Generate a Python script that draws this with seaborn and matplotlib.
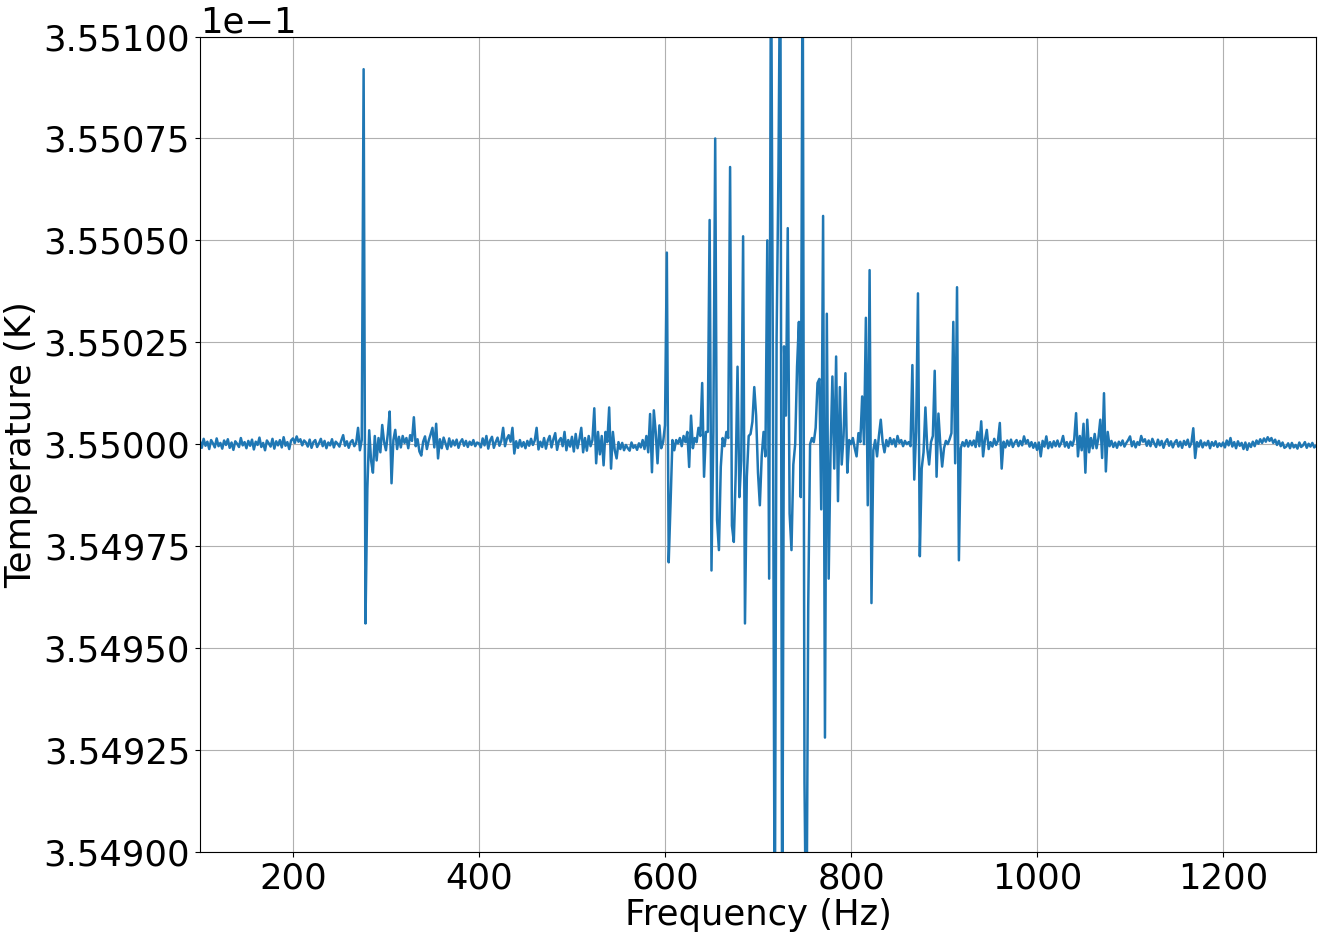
import numpy as np
import matplotlib
matplotlib.use("Agg")
import matplotlib.pyplot as plt
import matplotlib.ticker as mticker
import seaborn as sns

# frequency grid (Hz), one sample every 2 Hz
freq = np.arange(100, 1301, 2)

# deviation from 0.355 K, in micro-kelvin
dev_low = [
    0.8, -0.9, 1.3, -0.4, 0.6, -1.2, 1.0, 0.2, -0.8, 1.4, -0.5, 0.3, -1.1, 0.9, -0.2, 1.2, -0.9, 0.4, -1.4, 0.7, 0.1, -0.7, 1.5, -0.3, 0.5,
    -1.0, 0.8, -0.4, 1.1, -1.3, 0.6, -0.2, 1.6, -0.7, 0.3, -1.5, 0.9, 0.2, -0.6, 1.3, -1.1, 0.7, -0.3, 1.0, -0.8, 1.7, -0.4, 0.5, -1.2, 0.9,
    1.4, 0.3, 1.9, 0.6, 1.2, -0.3, 0.9, 0.4, -0.6, 1.1, -0.9, 0.5, 1.0, -0.7, 0.2, 1.3, -0.5, 0.8, -1.0, 0.4, -0.3, 1.2, -0.8, 0.6, 0.1,
    -0.6, 0.9, 2.2, -0.4, 0.7, -0.9, 0.5, 1.0, -0.5, 0.3, 4.0, -1.5, 1.0, 92, -44, -11, 3.4, -4, -7, 2, -4, 1.5, -2, 4.7, 0.5,
    -1.5, 2.5, 8, -9.6, 1.0, 3.5, -1.2, 1.8, -0.8, 2.0, 0.3, 1.5, -1.0, 2.2, 0.8, 6.6, -0.5, 1.2, -1.8, -2.8, 0.6, 1.9, -1.2, 0.9, 2.4,
    4, -0.8, 5, -3.5, 1.2, -1.0, 1.6, 0.2, -1.2, 1.4, -0.6, 0.9, -0.3, 1.1, -0.9, 0.5, 1.2, -0.4, 0.8, -0.7, 0.6, -0.2, 1.0, -0.5, 0.4,
    0.2, -0.8, 1.4, -0.3, 2.0, -1.1, 0.9, 1.8, -0.9, 0.5, 1.6, -0.4, 0.8, 4.0, -0.5, 1.3, 2.2, 0.6, 4.0, -2.3, 0.7, -0.9, 1.0, -0.6, 0.5,
    -1.0, 0.8, -0.4, 1.3, -0.2, 0.9, 4.0, -1.3, 0.6, -0.7, 1.5, -1.1, 0.9, 2.0, -0.8, 1.2, 2.7, -1.4, 0.8, 1.5, -0.5, 3.0, -1.5, 1.0, -0.6,
    1.8, -1.8, 2.5, -1.0, 1.2, 4.0, -2.0, 1.5, -1.6, 2.0, -0.5, 1.0, 8.8, -4.7, 3.0, -2.5, 2.0, -5.2, 3.0, 0.5, 9.0, -6.0, 3.0, -1.5, -3.5,
    0.5, -1.2, 0.3, -1.5, -0.2, -1.0, -1.6, 0.4, -0.9, -0.3, -1.4, 0.2, -0.8, 1.0, -1.2, 2.0, -2.0, 7.4, -6.9, 8.3, 3.0, -4.7, 4.6, -1.0, 0.5,
]

dev_mid = [
    4.6, 47, -29, -14.5, 1.0, -1.5, 1.0, 0.2, 1.5, -0.5, 2.0, 0.5, 3.0, -5.6, 7.0, -1.0, 1.5, 0.5, 4.0, 2.0, 15, -8, 3, 3, 55,
    -31, 3, 75, -18.6, -26, -5.6, 1.5, -0.5, 3, 1.5, 68, -20, -24, -7.5, 19, -13, -4, 51, -44, -8, 2, 2.5, 5.5, 14, 7,
    -7, -15, -3, 3, -3, 50, -33, 130, 20, -130, 26, 67, 130, -130, 24, 7, 53, -17, -26, -5, 0, 19, 30, -13, 130,
    -83, -130, -40, 0, 1.5, 0.5, 4, 15, 16, -16, 56, -72, 32, -33, -2, 16.6, -6, 21.5, -14, 14, -5, 2, 17.4, -7, 1,
    0, 1.5, -1, -3, 2.7, 0.5, 11.7, 0, 31, -15, 42.7, -39, -1.5, 1, -3, 2, 6, 0.5, -2, 1.0, -0.5, 1.5, 0, 1.2, -0.6,
    2, 0.3, 1.0, -0.5, 0.8, 0, 0.5, -0.5, 19.4, -8.7, 3, 37, -27.5, -6, -2, 9, -1, -5, 0.5, 2, 18, -8, 7.5, 0, -5.5,
    -1, 0.8, 0, 1.2, 2.7, 30, -4.7, 38.5, -28.5, -1, 0.5, -0.5, 1, -0.6, 0.8, -0.3, 0.9, -0.7, 3, -0.5, 5.6, -3, 1.0, 3.5, -1.2,
    0.5, -0.6, 1.3, -0.2, 0.8, 5.2, -6, 0.6, -0.8, 0.9, -0.4, 1.1, -0.7, 0.4, 1.0, -0.5, 0.8, -0.3, 1.9, 0.2, 1.0, -0.6, 0.5, -0.9, 0.3,
]

dev_high = [
    -1.4, 0.4, -3, 0.8, -0.6, 1.9, -1.0, 0.5, -0.8, 0.7, -0.5, 0.9, -0.6, 0.3, 2, -0.6, 0.5, -0.9, 0.6, -0.4, 1.2, 7.6, -3, 2, -1.5,
    5, -7, 6, -2, 1.5, -1, 2.5, -1, 1.5, 6, -3.4, 12.5, -6.7, 3, -0.5, 0.8, -0.7, 0.4, -0.9, 0.6, -0.3, 0.9, -0.6, 0.3, 1.0,
    1.9, -0.5, 0.7, -0.8, 0.5, -0.2, 2, 0.6, 1.2, -0.4, 0.9, -0.5, 1.3, 0.2, -0.7, 1.1, -0.3, 0.8, -0.9, 0.5, 1.2, -0.4, 0.7, -0.8, 0.4,
    1.0, -0.6, 0.6, -0.9, 0.8, -0.2, 1.1, -0.7, 0.3, 3.9, -3.4, 0.5, -0.6, 0.9, -0.8, 0.4, -0.3, 0.8, -1.0, 0.5, -0.4, 0.7, -0.7, 0.2, -0.5,
    0.4, -0.8, 0.9, -0.3, 1.5, -0.6, 0.5, -1.0, 0.7, -0.4, 0.3, -1.2, 0.4, -1.4, 0.2, -0.7, 0.6, -0.5, 0.9, 0.1, 1.2, 0.3, 1.4, 0.6, 1.7,
    0.8, 1.5, 0.3, 1.1, -0.2, 0.8, -0.5, 0.4, -0.9, -0.6, 0.2, -1.0, 0.3, -0.8, -0.2, -1.1, 0.4, -0.7, -0.3, 0.5, -0.9, 0.1, -0.6, 0.3, -0.8,
    -0.4,
]

T0 = 0.355
dev = np.array(dev_low + dev_mid + dev_high)
temp = T0 + dev * 1e-6

plt.rcParams["font.size"] = 25.5

fig = plt.figure(figsize=(13.24, 9.38), dpi=100)
ax = fig.add_axes([0.151, 0.092, 0.843, 0.869])
sns.lineplot(x=freq, y=temp, ax=ax, color="#1f77b4", linewidth=1.8, estimator=None)

ax.set_xlim(100, 1300)
ax.set_ylim(0.3549, 0.3551)
ax.xaxis.set_major_locator(mticker.MultipleLocator(200))
ax.yaxis.set_major_locator(mticker.MultipleLocator(2.5e-5))
ax.ticklabel_format(axis="y", style="sci", scilimits=(0, 0), useOffset=False)
ax.tick_params(labelsize=25.5)
ax.yaxis.get_offset_text().set_fontsize(25.5)
ax.grid(True, color="#b0b0b0", linewidth=0.8)
ax.set_xlabel("Frequency (Hz)", fontsize=25.5, labelpad=2)
ax.set_ylabel("Temperature (K)", fontsize=25.5, labelpad=4)

fig.savefig("out.png", dpi=100)
